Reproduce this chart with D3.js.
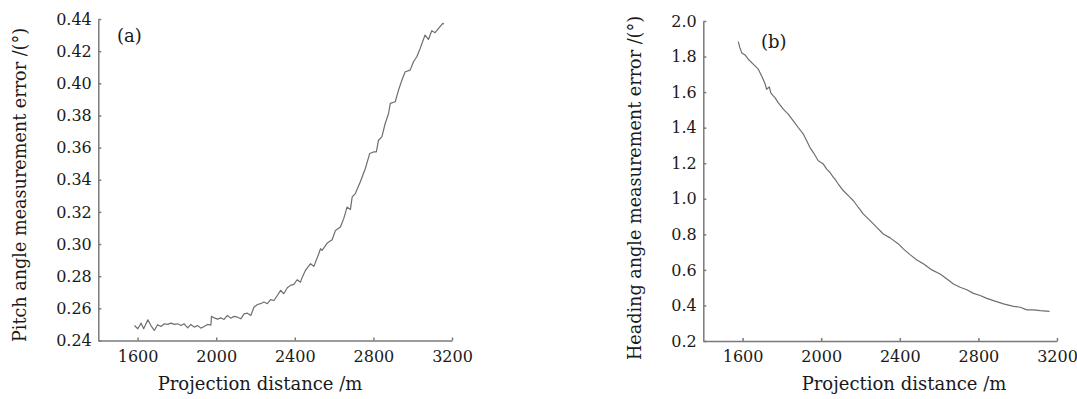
<!DOCTYPE html>
<html>
<head>
<meta charset="utf-8">
<script src="https://cdn.jsdelivr.net/npm/d3@7"></script>
<style>
  body { margin: 0; background: #fff; }
  svg { display: block; background: #fff; }
  text { font-family: "DejaVu Serif", serif; fill: #1a1a1a; }
  .axis path, .axis line { stroke: #7a7a7a; stroke-width: 1.5; }
  .axis text { font-size: 16px; fill: #1a1a1a; }
</style>
</head>
<body>
<div id="chart"></div>
<script>
// x tick labels, shared by both panels
var xTicks = [1600, 2000, 2400, 2800, 3200];
var pitchTicks = [0.24, 0.26, 0.28, 0.30, 0.32, 0.34, 0.36, 0.38, 0.40, 0.42, 0.44];
var headingTicks = [0.2, 0.4, 0.6, 0.8, 1.0, 1.2, 1.4, 1.6, 1.8, 2.0];

// (a) pitch angle error vs projection distance
var distA = [1584, 1601, 1618, 1631, 1652, 1668, 1685, 1702, 1719, 1736, 1753, 1770, 1787, 1804,
  1821, 1837, 1855, 1871, 1888, 1905, 1922, 1939, 1956, 1973, 1976, 1989, 2007, 2023, 2040,
  2057, 2074, 2091, 2108, 2125, 2142, 2159, 2176, 2192, 2210, 2226, 2243, 2260, 2277, 2294,
  2311, 2328, 2344, 2362, 2378, 2395, 2412, 2429, 2438, 2454, 2480, 2497, 2522, 2531, 2539,
  2565, 2590, 2607, 2632, 2649, 2666, 2683, 2692, 2708, 2733, 2759, 2781, 2801, 2815, 2826,
  2843, 2860, 2877, 2886, 2911, 2928, 2945, 2962, 2987, 3004, 3021, 3038, 3063, 3080, 3097,
  3114, 3139, 3153, 3159];
var errA = [0.2493, 0.2473, 0.2508, 0.2473, 0.2529, 0.2493, 0.2462, 0.2498, 0.2487, 0.2504,
  0.2500, 0.2508, 0.2500, 0.2504, 0.2493, 0.2504, 0.2479, 0.2500, 0.2483, 0.2493, 0.2477,
  0.2487, 0.2500, 0.2495, 0.2550, 0.2541, 0.2533, 0.2541, 0.2531, 0.2556, 0.2539, 0.2550,
  0.2545, 0.2535, 0.2566, 0.2570, 0.2556, 0.2607, 0.2624, 0.2629, 0.2639, 0.2629, 0.2654,
  0.2649, 0.2680, 0.2712, 0.2691, 0.2728, 0.2743, 0.2749, 0.2778, 0.2763, 0.2794, 0.2836,
  0.2878, 0.2861, 0.2940, 0.2971, 0.2961, 0.3006, 0.3027, 0.3085, 0.3106, 0.3158, 0.3230,
  0.3214, 0.3293, 0.3314, 0.3386, 0.3470, 0.3563, 0.3573, 0.3573, 0.3646, 0.3667, 0.3750,
  0.3812, 0.3875, 0.3885, 0.3958, 0.4020, 0.4072, 0.4082, 0.4134, 0.4165, 0.4217, 0.4300,
  0.4273, 0.4327, 0.4315, 0.4352, 0.4373, 0.4369];

// (b) heading angle error vs projection distance
var distB = [1578, 1586, 1595, 1612, 1629, 1654, 1680, 1697, 1714, 1722, 1736, 1743, 1756, 1765,
  1781, 1807, 1832, 1858, 1883, 1909, 1926, 1943, 1960, 1985, 2011, 2028, 2045, 2062, 2070,
  2087, 2113, 2147, 2164, 2189, 2215, 2249, 2283, 2316, 2351, 2393, 2418, 2452, 2487, 2520,
  2563, 2605, 2640, 2673, 2707, 2741, 2775, 2809, 2843, 2877, 2928, 2979, 3013, 3047, 3081,
  3115, 3162];
var errB = [1.884, 1.850, 1.822, 1.809, 1.785, 1.757, 1.729, 1.691, 1.648, 1.616, 1.629, 1.597,
  1.579, 1.569, 1.541, 1.504, 1.476, 1.438, 1.401, 1.364, 1.326, 1.288, 1.260, 1.214, 1.195,
  1.167, 1.148, 1.120, 1.111, 1.083, 1.045, 1.008, 0.989, 0.951, 0.914, 0.877, 0.839, 0.802,
  0.780, 0.746, 0.718, 0.686, 0.656, 0.634, 0.600, 0.577, 0.549, 0.521, 0.502, 0.488, 0.468,
  0.456, 0.440, 0.427, 0.409, 0.395, 0.390, 0.375, 0.375, 0.371, 0.367];

var svg = d3.select("#chart")
  .append("svg")
  .attr("width", 1077)
  .attr("height", 399);

// draws one panel: axes, curve, titles
function drawPanel(p) {
  var x = d3.scaleLinear().domain([1400, 3200]).range([p.left, p.right]);
  var y = d3.scaleLinear().domain(p.yDomain).range([p.bottom, p.top]);

  svg.append("g")
    .attr("class", "axis")
    .attr("transform", `translate(0, ${p.bottom})`)
    .call(d3.axisBottom(x).tickValues(xTicks).tickFormat(d3.format("d"))
      .tickSizeInner(-3).tickSizeOuter(0).tickPadding(10));

  svg.append("g")
    .attr("class", "axis")
    .attr("transform", `translate(${p.left}, 0)`)
    .call(d3.axisLeft(y).tickValues(p.yTicks).tickFormat(d3.format(p.fmt))
      .tickSizeInner(-3).tickSizeOuter(0).tickPadding(6.5));

  var line = d3.line()
    .x(function(d, i) { return x(p.dist[i]); })
    .y(function(d) { return y(d); });

  svg.append("path")
    .datum(p.err)
    .attr("d", line)
    .attr("fill", "none")
    .attr("stroke", "#6e6e6e")
    .attr("stroke-width", 1.2)
    .attr("stroke-linejoin", "round");

  // panel letter
  svg.append("text")
    .attr("x", p.tagX)
    .attr("y", p.tagY)
    .style("font-size", "18px")
    .text(p.tag);

  // x title
  svg.append("text")
    .attr("x", p.xTitleX)
    .attr("y", 390)
    .attr("text-anchor", "middle")
    .style("font-size", "18px")
    .text("Projection distance /m");

  // y title
  svg.append("text")
    .attr("transform", `translate(${p.yTitleX}, ${p.yTitleY}) rotate(-90)`)
    .attr("text-anchor", "middle")
    .style("font-size", "17.6px")
    .text(p.yTitle);
}

drawPanel({
  left: 98.3, right: 452, top: 19, bottom: 340.5,
  yDomain: [0.24, 0.44], yTicks: pitchTicks, fmt: ".2f",
  dist: distA, err: errA,
  tag: "(a)", tagX: 117, tagY: 42,
  xTitleX: 260, yTitleX: 26, yTitleY: 185,
  yTitle: "Pitch angle measurement error /(°)"
});

drawPanel({
  left: 703.3, right: 1057, top: 21, bottom: 341,
  yDomain: [0.2, 2.0], yTicks: headingTicks, fmt: ".1f",
  dist: distB, err: errB,
  tag: "(b)", tagX: 761, tagY: 48,
  xTitleX: 904, yTitleX: 641, yTitleY: 188,
  yTitle: "Heading angle measurement error /(°)"
});
</script>
</body>
</html>
